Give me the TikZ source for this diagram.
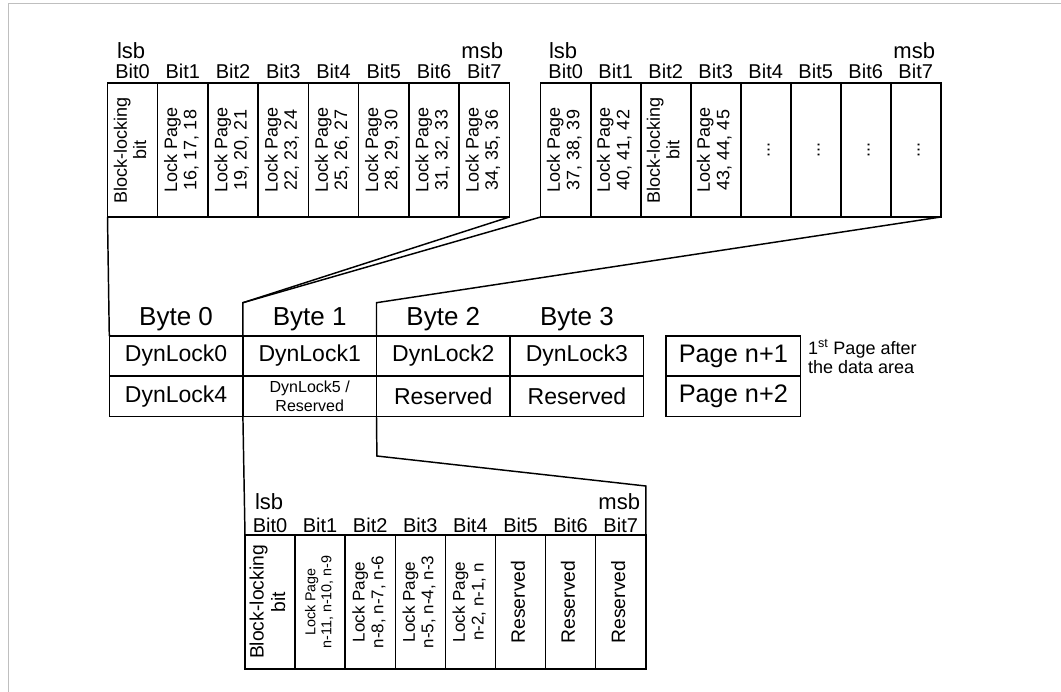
\documentclass[tikz,border=0pt]{standalone}
\usepackage{fontspec}
\setmainfont{Liberation Sans}
\usepackage{graphicx}
\usetikzlibrary{positioning}

\newcommand{\vcell}[1]{\rotatebox{90}{\begin{tabular}{@{}c@{}}#1\end{tabular}}}

\tikzset{
	bitcell/.style={draw, anchor=north west, minimum width=37.6pt, minimum height=100.5pt},
	bytecell/.style={draw, anchor=north west, minimum width=100.2pt, minimum height=30pt},
	bytehead/.style={anchor=north west, minimum width=100.2pt, minimum height=25pt, font=\fontsize{19.5pt}{22pt}\selectfont},
	lockfont/.style={font=\fontsize{13.5pt}{14.5pt}\selectfont},
	blockfont/.style={font=\fontsize{14.5pt}{16pt}\selectfont},
	tinyfont/.style={font=\fontsize{10.75pt}{12pt}\selectfont},
	midfont/.style={font=\fontsize{12.75pt}{14pt}\selectfont},
	bitlbl/.style={anchor=base, font=\fontsize{15pt}{18pt}\selectfont},
	sblbl/.style={font=\fontsize{16.5pt}{19pt}\selectfont},
	dynfont/.style={font=\fontsize{17.25pt}{20pt}\selectfont},
	smallfont/.style={font=\fontsize{12pt}{14pt}\selectfont},
	pagefont/.style={font=\fontsize{19pt}{22pt}\selectfont}
}

\begin{document}
\begin{tikzpicture}[x=0.75pt, y=-0.75pt, line width=1.1pt, every node/.style={inner sep=0pt, outer sep=0pt}]
		\useasboundingbox (0,0) rectangle (1061,692);
		\draw [line width=0.75pt, black!25] (8.5,692) -- (8.5,4) -- (1061,4);
		
		% Byte 0 bits
		\foreach \i/\txt in {0/{Block-locking\\bit},1/{Lock Page\\16, 17, 18},2/{Lock Page\\19, 20, 21},3/{Lock Page\\22, 23, 24},4/{Lock Page\\25, 26, 27},5/{Lock Page\\28, 29, 30},6/{Lock Page\\31, 32, 33},7/{Lock Page\\34, 35, 36}}
		\node [bitcell, lockfont] (tl\i) at ({107.5+50.25*\i},83) {\vcell{\txt}};
		\foreach \i in {0,...,7}
		\node [bitlbl] (tlb\i) at ({132.6+50.25*\i},79) {Bit\i};
		\node [sblbl, anchor=base west] (tllsb) at (117,59) {lsb};
		\node [sblbl, anchor=base east] (tlmsb) at (503,59) {msb};
		
		% Byte 1 bits
		\foreach \i/\txt in {0/{Lock Page\\37, 38, 39},1/{Lock Page\\40, 41, 42},2/{Block-locking\\bit},3/{Lock Page\\43, 44, 45},4/{...},5/{...},6/{...},7/{...}}
		\node [bitcell, lockfont] (tr\i) at ({540.7+50*\i},83) {\vcell{\txt}};
		\foreach \i in {0,...,7}
		\node [bitlbl] (trb\i) at ({565.7+50*\i},79) {Bit\i};
		\node [sblbl, anchor=base west] (trlsb) at (549,59) {lsb};
		\node [sblbl, anchor=base east] (trmsb) at (935,59) {msb};
		
		% dynamic lock bytes
		\foreach \i in {0,...,3}
		\node [bytehead] (byte\i) at ({109.3+133.6*\i},302.7) {Byte \i};
		\foreach \i/\txt in {0/DynLock0,1/DynLock1,2/DynLock2,3/DynLock3,4/DynLock4,6/Reserved,7/Reserved}
		\node [bytecell, dynfont] (dyn\i) at ({109.3+133.6*mod(\i,4)},{336+40.5*int(\i/4)}) {\txt};
		\node [bytecell, smallfont, align=center] (dyn5) at (242.9,376.5) {DynLock5 /\\Reserved};
		\node [bytecell, pagefont, minimum width=101pt] (pg1) at (666,336) {Page n+1};
		\node [bytecell, pagefont, minimum width=101pt] (pg2) at (666,376.5) {Page n+2};
		\node [lockfont, align=left, anchor=north west] (note) at (808,339) {1\textsuperscript{st} Page after\\the data area};
		
		% last byte bits
		\foreach \i/\sty/\txt in {0/blockfont/{Block-locking\\bit},1/tinyfont/{Lock Page\\n-11, n-10, n-9},2/midfont/{Lock Page\\n-8, n-7, n-6},3/midfont/{Lock Page\\n-5, n-4, n-3},4/midfont/{Lock Page\\n-2, n-1, n},5/blockfont/{Reserved},6/blockfont/{Reserved},7/blockfont/{Reserved}}
		\node [bitcell, \sty] (bl\i) at ({245+50.1*\i},535) {\vcell{\txt}};
		\foreach \i in {0,...,7}
		\node [bitlbl] (blb\i) at ({270+50.1*\i},532) {Bit\i};
		\node [sblbl, anchor=base west] (bllsb) at (255,509.5) {lsb};
		\node [sblbl, anchor=base east] (blmsb) at (640,509.5) {msb};
		
		\coordinate (mbend) at (376.9,456);
		\coordinate (bbend) at (645.8,486);
		\draw (tl0.south west) -- (dyn0.north west);
		\draw (tl7.south east) -- (byte1.north west) -- (dyn1.north west);
		\draw (tr0.south west) -- (byte1.north west);
		\draw (tr7.south east) -- (byte2.north west) -- (dyn2.north west);
		\draw (dyn5.south west) -- (bl0.north west);
		\draw (dyn5.south east) -- (mbend) -- (bbend) -- (bl7.north east);
		
	\end{tikzpicture}
\end{document}
